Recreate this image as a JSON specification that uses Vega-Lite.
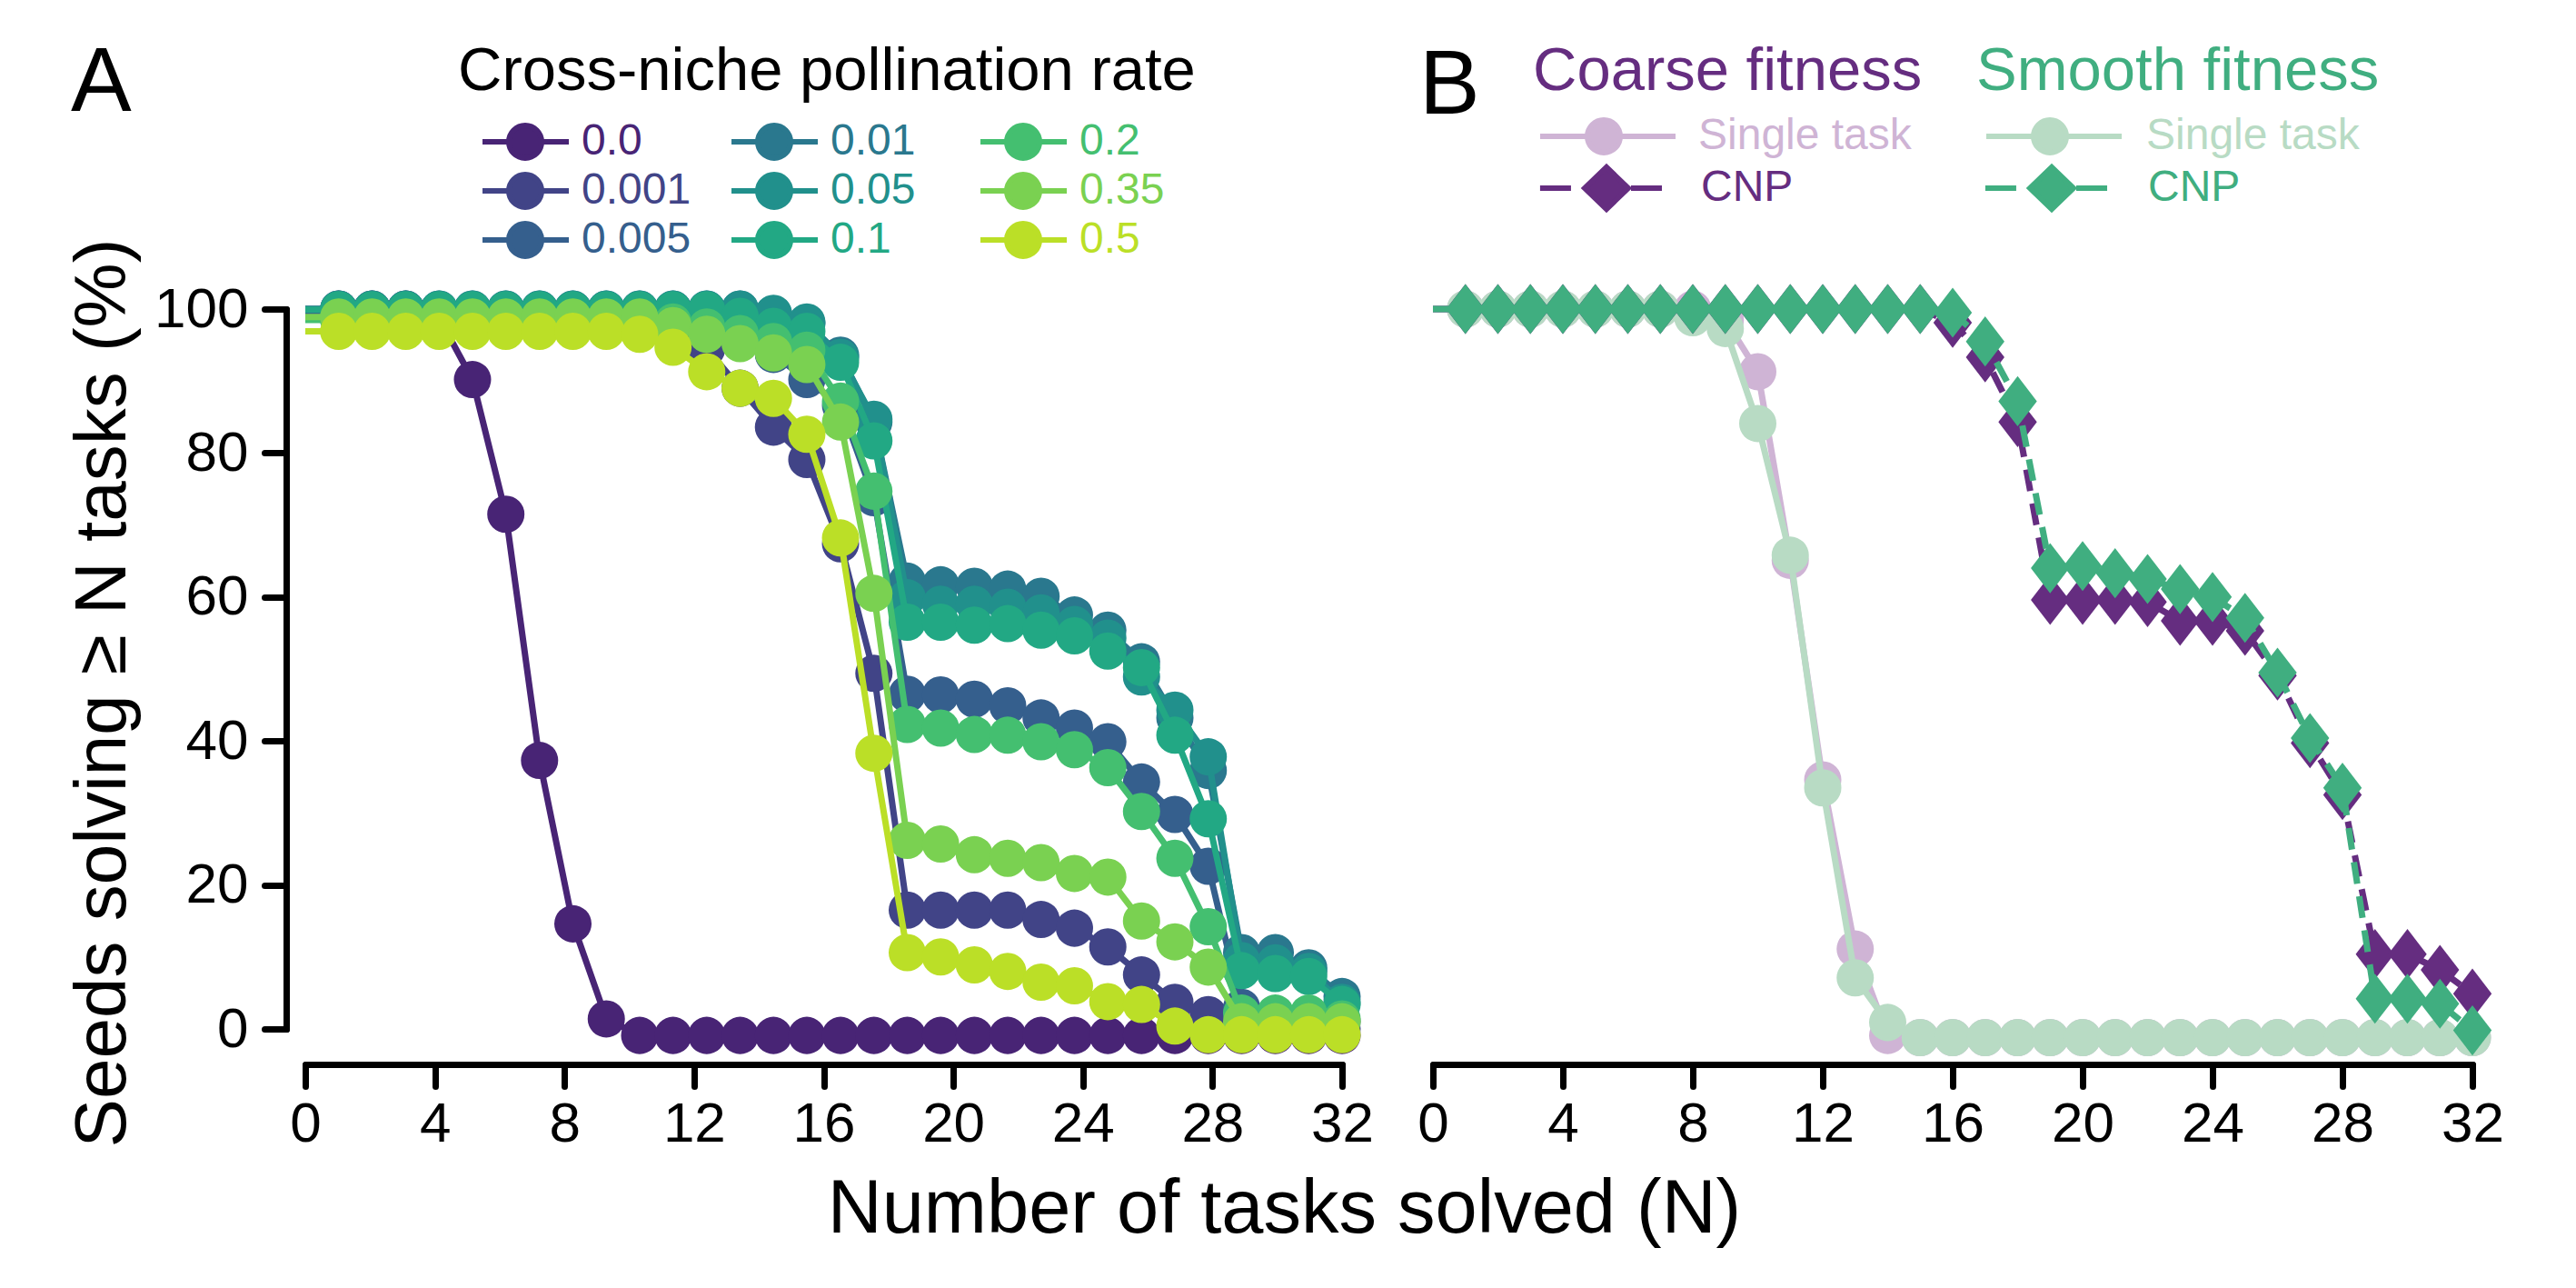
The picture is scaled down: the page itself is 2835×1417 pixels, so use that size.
{
  "$schema": "https://vega.github.io/schema/vega-lite/v6.json",
  "background": "white",
  "padding": {"left": 72, "top": 42, "right": 20, "bottom": 20},
  "bounds": "flush",
  "spacing": 100,
  "config": {
    "font": "Liberation Sans",
    "view": {"stroke": null},
    "axis": {
      "domainColor": "black", "domainWidth": 7, "domainCap": "round",
      "tickColor": "black", "tickWidth": 7, "tickSize": 24, "tickCap": "round",
      "labelFont": "Liberation Sans", "labelFontSize": 62, "labelColor": "black",
      "labelFlush": false, "labelOverlap": false, "grid": false,
      "titleFont": "Liberation Sans", "titleFontSize": 80, "titleFontWeight": "normal", "titleColor": "black"
    },
    "legend": {"labelFont": "Liberation Sans", "titleFont": "Liberation Sans"},
    "title": {"font": "Liberation Sans", "fontWeight": "normal", "color": "black"}
  },
  "datasets": {
    "A": [
      {"rate":"0.0","N":0,"pct":100},{"rate":"0.0","N":1.03,"pct":100},{"rate":"0.0","N":2.06,"pct":100},{"rate":"0.0","N":3.1,"pct":100},{"rate":"0.0","N":4.13,"pct":98.8},{"rate":"0.0","N":5.16,"pct":90.2},{"rate":"0.0","N":6.19,"pct":71.5},{"rate":"0.0","N":7.23,"pct":37.3},{"rate":"0.0","N":8.26,"pct":14.6},{"rate":"0.0","N":9.29,"pct":1.4},{"rate":"0.0","N":10.32,"pct":-0.9},{"rate":"0.0","N":11.35,"pct":-0.9},{"rate":"0.0","N":12.39,"pct":-0.9},{"rate":"0.0","N":13.42,"pct":-0.9},{"rate":"0.0","N":14.45,"pct":-0.9},{"rate":"0.0","N":15.48,"pct":-0.9},{"rate":"0.0","N":16.52,"pct":-0.9},{"rate":"0.0","N":17.55,"pct":-0.9},{"rate":"0.0","N":18.58,"pct":-0.9},{"rate":"0.0","N":19.61,"pct":-0.9},{"rate":"0.0","N":20.65,"pct":-0.9},{"rate":"0.0","N":21.68,"pct":-0.9},{"rate":"0.0","N":22.71,"pct":-0.9},{"rate":"0.0","N":23.74,"pct":-0.9},{"rate":"0.0","N":24.77,"pct":-0.9},{"rate":"0.0","N":25.81,"pct":-0.9},{"rate":"0.0","N":26.84,"pct":-0.9},{"rate":"0.0","N":27.87,"pct":-0.9},{"rate":"0.0","N":28.9,"pct":-0.9},{"rate":"0.0","N":29.94,"pct":-0.9},{"rate":"0.0","N":30.97,"pct":-0.9},{"rate":"0.0","N":32,"pct":-0.9},
      {"rate":"0.001","N":0,"pct":99.5},{"rate":"0.001","N":1.03,"pct":99.5},{"rate":"0.001","N":2.06,"pct":99.5},{"rate":"0.001","N":3.1,"pct":99.5},{"rate":"0.001","N":4.13,"pct":99.5},{"rate":"0.001","N":5.16,"pct":99.5},{"rate":"0.001","N":6.19,"pct":99.5},{"rate":"0.001","N":7.23,"pct":99.5},{"rate":"0.001","N":8.26,"pct":99.5},{"rate":"0.001","N":9.29,"pct":99.5},{"rate":"0.001","N":10.32,"pct":99.5},{"rate":"0.001","N":11.35,"pct":97.5},{"rate":"0.001","N":12.39,"pct":94.5},{"rate":"0.001","N":13.42,"pct":89},{"rate":"0.001","N":14.45,"pct":83.6},{"rate":"0.001","N":15.48,"pct":79.1},{"rate":"0.001","N":16.52,"pct":67.4},{"rate":"0.001","N":17.55,"pct":49.4},{"rate":"0.001","N":18.58,"pct":16.5},{"rate":"0.001","N":19.61,"pct":16.5},{"rate":"0.001","N":20.65,"pct":16.5},{"rate":"0.001","N":21.68,"pct":16.5},{"rate":"0.001","N":22.71,"pct":15.2},{"rate":"0.001","N":23.74,"pct":14},{"rate":"0.001","N":24.77,"pct":11.4},{"rate":"0.001","N":25.81,"pct":7.5},{"rate":"0.001","N":26.84,"pct":3.7},{"rate":"0.001","N":27.87,"pct":2},{"rate":"0.001","N":28.9,"pct":0},{"rate":"0.001","N":29.94,"pct":0},{"rate":"0.001","N":30.97,"pct":0},{"rate":"0.001","N":32,"pct":0},
      {"rate":"0.005","N":0,"pct":99.5},{"rate":"0.005","N":1.03,"pct":99.5},{"rate":"0.005","N":2.06,"pct":99.5},{"rate":"0.005","N":3.1,"pct":99.5},{"rate":"0.005","N":4.13,"pct":99.5},{"rate":"0.005","N":5.16,"pct":99.5},{"rate":"0.005","N":6.19,"pct":99.5},{"rate":"0.005","N":7.23,"pct":99.5},{"rate":"0.005","N":8.26,"pct":99.5},{"rate":"0.005","N":9.29,"pct":99.5},{"rate":"0.005","N":10.32,"pct":99.5},{"rate":"0.005","N":11.35,"pct":99.5},{"rate":"0.005","N":12.39,"pct":98.5},{"rate":"0.005","N":13.42,"pct":96.5},{"rate":"0.005","N":14.45,"pct":93.7},{"rate":"0.005","N":15.48,"pct":90.2},{"rate":"0.005","N":16.52,"pct":86.6},{"rate":"0.005","N":17.55,"pct":73.8},{"rate":"0.005","N":18.58,"pct":46.5},{"rate":"0.005","N":19.61,"pct":46.4},{"rate":"0.005","N":20.65,"pct":45.8},{"rate":"0.005","N":21.68,"pct":44.9},{"rate":"0.005","N":22.71,"pct":43.2},{"rate":"0.005","N":23.74,"pct":41.8},{"rate":"0.005","N":24.77,"pct":39.9},{"rate":"0.005","N":25.81,"pct":34.3},{"rate":"0.005","N":26.84,"pct":29.8},{"rate":"0.005","N":27.87,"pct":22.6},{"rate":"0.005","N":28.9,"pct":3},{"rate":"0.005","N":29.94,"pct":2},{"rate":"0.005","N":30.97,"pct":2},{"rate":"0.005","N":32,"pct":1},
      {"rate":"0.01","N":0,"pct":100},{"rate":"0.01","N":1.03,"pct":100},{"rate":"0.01","N":2.06,"pct":100},{"rate":"0.01","N":3.1,"pct":100},{"rate":"0.01","N":4.13,"pct":100},{"rate":"0.01","N":5.16,"pct":100},{"rate":"0.01","N":6.19,"pct":100},{"rate":"0.01","N":7.23,"pct":100},{"rate":"0.01","N":8.26,"pct":100},{"rate":"0.01","N":9.29,"pct":100},{"rate":"0.01","N":10.32,"pct":100},{"rate":"0.01","N":11.35,"pct":100},{"rate":"0.01","N":12.39,"pct":100},{"rate":"0.01","N":13.42,"pct":100},{"rate":"0.01","N":14.45,"pct":99.3},{"rate":"0.01","N":15.48,"pct":98},{"rate":"0.01","N":16.52,"pct":93.6},{"rate":"0.01","N":17.55,"pct":84.3},{"rate":"0.01","N":18.58,"pct":62.2},{"rate":"0.01","N":19.61,"pct":61.7},{"rate":"0.01","N":20.65,"pct":61.5},{"rate":"0.01","N":21.68,"pct":61.1},{"rate":"0.01","N":22.71,"pct":60.1},{"rate":"0.01","N":23.74,"pct":57.5},{"rate":"0.01","N":24.77,"pct":55.4},{"rate":"0.01","N":25.81,"pct":51},{"rate":"0.01","N":26.84,"pct":43.2},{"rate":"0.01","N":27.87,"pct":35.9},{"rate":"0.01","N":28.9,"pct":10.6},{"rate":"0.01","N":29.94,"pct":10.6},{"rate":"0.01","N":30.97,"pct":8.5},{"rate":"0.01","N":32,"pct":4.5},
      {"rate":"0.05","N":0,"pct":100},{"rate":"0.05","N":1.03,"pct":100},{"rate":"0.05","N":2.06,"pct":100},{"rate":"0.05","N":3.1,"pct":100},{"rate":"0.05","N":4.13,"pct":100},{"rate":"0.05","N":5.16,"pct":100},{"rate":"0.05","N":6.19,"pct":100},{"rate":"0.05","N":7.23,"pct":100},{"rate":"0.05","N":8.26,"pct":100},{"rate":"0.05","N":9.29,"pct":100},{"rate":"0.05","N":10.32,"pct":100},{"rate":"0.05","N":11.35,"pct":100},{"rate":"0.05","N":12.39,"pct":100},{"rate":"0.05","N":13.42,"pct":100},{"rate":"0.05","N":14.45,"pct":99.4},{"rate":"0.05","N":15.48,"pct":98.2},{"rate":"0.05","N":16.52,"pct":93.3},{"rate":"0.05","N":17.55,"pct":84.7},{"rate":"0.05","N":18.58,"pct":59.9},{"rate":"0.05","N":19.61,"pct":59},{"rate":"0.05","N":20.65,"pct":59},{"rate":"0.05","N":21.68,"pct":58.6},{"rate":"0.05","N":22.71,"pct":57.8},{"rate":"0.05","N":23.74,"pct":56.2},{"rate":"0.05","N":24.77,"pct":54.3},{"rate":"0.05","N":25.81,"pct":48.9},{"rate":"0.05","N":26.84,"pct":44.3},{"rate":"0.05","N":27.87,"pct":37.8},{"rate":"0.05","N":28.9,"pct":9.5},{"rate":"0.05","N":29.94,"pct":9.2},{"rate":"0.05","N":30.97,"pct":8},{"rate":"0.05","N":32,"pct":3.7},
      {"rate":"0.1","N":0,"pct":99.9},{"rate":"0.1","N":1.03,"pct":99.9},{"rate":"0.1","N":2.06,"pct":99.9},{"rate":"0.1","N":3.1,"pct":99.9},{"rate":"0.1","N":4.13,"pct":99.9},{"rate":"0.1","N":5.16,"pct":99.9},{"rate":"0.1","N":6.19,"pct":99.9},{"rate":"0.1","N":7.23,"pct":99.9},{"rate":"0.1","N":8.26,"pct":99.9},{"rate":"0.1","N":9.29,"pct":99.9},{"rate":"0.1","N":10.32,"pct":99.9},{"rate":"0.1","N":11.35,"pct":99.9},{"rate":"0.1","N":12.39,"pct":99.9},{"rate":"0.1","N":13.42,"pct":99},{"rate":"0.1","N":14.45,"pct":97.6},{"rate":"0.1","N":15.48,"pct":96.9},{"rate":"0.1","N":16.52,"pct":92.6},{"rate":"0.1","N":17.55,"pct":81.7},{"rate":"0.1","N":18.58,"pct":56.5},{"rate":"0.1","N":19.61,"pct":56.5},{"rate":"0.1","N":20.65,"pct":56.1},{"rate":"0.1","N":21.68,"pct":56.3},{"rate":"0.1","N":22.71,"pct":55.4},{"rate":"0.1","N":23.74,"pct":54.6},{"rate":"0.1","N":24.77,"pct":52.5},{"rate":"0.1","N":25.81,"pct":50.2},{"rate":"0.1","N":26.84,"pct":40.8},{"rate":"0.1","N":27.87,"pct":29.2},{"rate":"0.1","N":28.9,"pct":8.1},{"rate":"0.1","N":29.94,"pct":7.7},{"rate":"0.1","N":30.97,"pct":7.3},{"rate":"0.1","N":32,"pct":3.4},
      {"rate":"0.2","N":0,"pct":98.5},{"rate":"0.2","N":1.03,"pct":98.5},{"rate":"0.2","N":2.06,"pct":98.5},{"rate":"0.2","N":3.1,"pct":98.5},{"rate":"0.2","N":4.13,"pct":98.5},{"rate":"0.2","N":5.16,"pct":98.5},{"rate":"0.2","N":6.19,"pct":98.5},{"rate":"0.2","N":7.23,"pct":98.5},{"rate":"0.2","N":8.26,"pct":98.5},{"rate":"0.2","N":9.29,"pct":98.5},{"rate":"0.2","N":10.32,"pct":98.5},{"rate":"0.2","N":11.35,"pct":98.2},{"rate":"0.2","N":12.39,"pct":97.5},{"rate":"0.2","N":13.42,"pct":96.6},{"rate":"0.2","N":14.45,"pct":95.5},{"rate":"0.2","N":15.48,"pct":94.3},{"rate":"0.2","N":16.52,"pct":87.2},{"rate":"0.2","N":17.55,"pct":74.7},{"rate":"0.2","N":18.58,"pct":42.3},{"rate":"0.2","N":19.61,"pct":41.8},{"rate":"0.2","N":20.65,"pct":40.9},{"rate":"0.2","N":21.68,"pct":40.8},{"rate":"0.2","N":22.71,"pct":39.9},{"rate":"0.2","N":23.74,"pct":38.8},{"rate":"0.2","N":24.77,"pct":36.3},{"rate":"0.2","N":25.81,"pct":30.2},{"rate":"0.2","N":26.84,"pct":23.7},{"rate":"0.2","N":27.87,"pct":14.2},{"rate":"0.2","N":28.9,"pct":2.2},{"rate":"0.2","N":29.94,"pct":2.2},{"rate":"0.2","N":30.97,"pct":2.2},{"rate":"0.2","N":32,"pct":1.4},
      {"rate":"0.35","N":0,"pct":98.9},{"rate":"0.35","N":1.03,"pct":98.9},{"rate":"0.35","N":2.06,"pct":98.9},{"rate":"0.35","N":3.1,"pct":98.9},{"rate":"0.35","N":4.13,"pct":98.9},{"rate":"0.35","N":5.16,"pct":98.9},{"rate":"0.35","N":6.19,"pct":98.9},{"rate":"0.35","N":7.23,"pct":98.9},{"rate":"0.35","N":8.26,"pct":98.9},{"rate":"0.35","N":9.29,"pct":98.9},{"rate":"0.35","N":10.32,"pct":98.9},{"rate":"0.35","N":11.35,"pct":97.7},{"rate":"0.35","N":12.39,"pct":96.5},{"rate":"0.35","N":13.42,"pct":95.2},{"rate":"0.35","N":14.45,"pct":93.9},{"rate":"0.35","N":15.48,"pct":92.3},{"rate":"0.35","N":16.52,"pct":84.3},{"rate":"0.35","N":17.55,"pct":60.5},{"rate":"0.35","N":18.58,"pct":26.2},{"rate":"0.35","N":19.61,"pct":25.7},{"rate":"0.35","N":20.65,"pct":24.2},{"rate":"0.35","N":21.68,"pct":23.7},{"rate":"0.35","N":22.71,"pct":23.1},{"rate":"0.35","N":23.74,"pct":21.6},{"rate":"0.35","N":24.77,"pct":21.1},{"rate":"0.35","N":25.81,"pct":15},{"rate":"0.35","N":26.84,"pct":12.1},{"rate":"0.35","N":27.87,"pct":8.6},{"rate":"0.35","N":28.9,"pct":1},{"rate":"0.35","N":29.94,"pct":1},{"rate":"0.35","N":30.97,"pct":1},{"rate":"0.35","N":32,"pct":1},
      {"rate":"0.5","N":0,"pct":96.9},{"rate":"0.5","N":1.03,"pct":96.9},{"rate":"0.5","N":2.06,"pct":96.9},{"rate":"0.5","N":3.1,"pct":96.9},{"rate":"0.5","N":4.13,"pct":96.9},{"rate":"0.5","N":5.16,"pct":96.9},{"rate":"0.5","N":6.19,"pct":96.9},{"rate":"0.5","N":7.23,"pct":96.9},{"rate":"0.5","N":8.26,"pct":96.9},{"rate":"0.5","N":9.29,"pct":96.9},{"rate":"0.5","N":10.32,"pct":96.5},{"rate":"0.5","N":11.35,"pct":94.7},{"rate":"0.5","N":12.39,"pct":91.3},{"rate":"0.5","N":13.42,"pct":89},{"rate":"0.5","N":14.45,"pct":87.6},{"rate":"0.5","N":15.48,"pct":82.6},{"rate":"0.5","N":16.52,"pct":68.2},{"rate":"0.5","N":17.55,"pct":38.3},{"rate":"0.5","N":18.58,"pct":10.6},{"rate":"0.5","N":19.61,"pct":10},{"rate":"0.5","N":20.65,"pct":8.9},{"rate":"0.5","N":21.68,"pct":8},{"rate":"0.5","N":22.71,"pct":6.5},{"rate":"0.5","N":23.74,"pct":6},{"rate":"0.5","N":24.77,"pct":3.8},{"rate":"0.5","N":25.81,"pct":3.4},{"rate":"0.5","N":26.84,"pct":0.4},{"rate":"0.5","N":27.87,"pct":-0.8},{"rate":"0.5","N":28.9,"pct":-0.8},{"rate":"0.5","N":29.94,"pct":-0.8},{"rate":"0.5","N":30.97,"pct":-0.8},{"rate":"0.5","N":32,"pct":-0.8}
    ],
    "B": [
      {"series":"Coarse single","type":"Single task","N":0,"pct":100},{"series":"Coarse single","type":"Single task","N":1,"pct":100},{"series":"Coarse single","type":"Single task","N":2,"pct":100},{"series":"Coarse single","type":"Single task","N":3,"pct":100},{"series":"Coarse single","type":"Single task","N":4,"pct":100},{"series":"Coarse single","type":"Single task","N":5,"pct":100},{"series":"Coarse single","type":"Single task","N":6,"pct":100},{"series":"Coarse single","type":"Single task","N":7,"pct":100},{"series":"Coarse single","type":"Single task","N":8,"pct":100},{"series":"Coarse single","type":"Single task","N":9,"pct":98.5},{"series":"Coarse single","type":"Single task","N":10,"pct":91.3},{"series":"Coarse single","type":"Single task","N":11,"pct":65.1},{"series":"Coarse single","type":"Single task","N":12,"pct":34.6},{"series":"Coarse single","type":"Single task","N":13,"pct":11.1},{"series":"Coarse single","type":"Single task","N":14,"pct":-0.9},{"series":"Coarse single","type":"Single task","N":15,"pct":-1.2},{"series":"Coarse single","type":"Single task","N":16,"pct":-1.2},{"series":"Coarse single","type":"Single task","N":17,"pct":-1.2},{"series":"Coarse single","type":"Single task","N":18,"pct":-1.2},{"series":"Coarse single","type":"Single task","N":19,"pct":-1.2},{"series":"Coarse single","type":"Single task","N":20,"pct":-1.2},{"series":"Coarse single","type":"Single task","N":21,"pct":-1.2},{"series":"Coarse single","type":"Single task","N":22,"pct":-1.2},{"series":"Coarse single","type":"Single task","N":23,"pct":-1.2},{"series":"Coarse single","type":"Single task","N":24,"pct":-1.2},{"series":"Coarse single","type":"Single task","N":25,"pct":-1.2},{"series":"Coarse single","type":"Single task","N":26,"pct":-1.2},{"series":"Coarse single","type":"Single task","N":27,"pct":-1.2},{"series":"Coarse single","type":"Single task","N":28,"pct":-1.2},{"series":"Coarse single","type":"Single task","N":29,"pct":-1.2},{"series":"Coarse single","type":"Single task","N":30,"pct":-1.2},{"series":"Coarse single","type":"Single task","N":31,"pct":-1.2},{"series":"Coarse single","type":"Single task","N":32,"pct":-1.2},
      {"series":"Smooth single","type":"Single task","N":0,"pct":100},{"series":"Smooth single","type":"Single task","N":1,"pct":100},{"series":"Smooth single","type":"Single task","N":2,"pct":100},{"series":"Smooth single","type":"Single task","N":3,"pct":100},{"series":"Smooth single","type":"Single task","N":4,"pct":100},{"series":"Smooth single","type":"Single task","N":5,"pct":100},{"series":"Smooth single","type":"Single task","N":6,"pct":100},{"series":"Smooth single","type":"Single task","N":7,"pct":100},{"series":"Smooth single","type":"Single task","N":8,"pct":98.8},{"series":"Smooth single","type":"Single task","N":9,"pct":97.3},{"series":"Smooth single","type":"Single task","N":10,"pct":84.1},{"series":"Smooth single","type":"Single task","N":11,"pct":65.8},{"series":"Smooth single","type":"Single task","N":12,"pct":33.5},{"series":"Smooth single","type":"Single task","N":13,"pct":7.1},{"series":"Smooth single","type":"Single task","N":14,"pct":0.9},{"series":"Smooth single","type":"Single task","N":15,"pct":-1.2},{"series":"Smooth single","type":"Single task","N":16,"pct":-1.2},{"series":"Smooth single","type":"Single task","N":17,"pct":-1.2},{"series":"Smooth single","type":"Single task","N":18,"pct":-1.2},{"series":"Smooth single","type":"Single task","N":19,"pct":-1.2},{"series":"Smooth single","type":"Single task","N":20,"pct":-1.2},{"series":"Smooth single","type":"Single task","N":21,"pct":-1.2},{"series":"Smooth single","type":"Single task","N":22,"pct":-1.2},{"series":"Smooth single","type":"Single task","N":23,"pct":-1.2},{"series":"Smooth single","type":"Single task","N":24,"pct":-1.2},{"series":"Smooth single","type":"Single task","N":25,"pct":-1.2},{"series":"Smooth single","type":"Single task","N":26,"pct":-1.2},{"series":"Smooth single","type":"Single task","N":27,"pct":-1.2},{"series":"Smooth single","type":"Single task","N":28,"pct":-1.2},{"series":"Smooth single","type":"Single task","N":29,"pct":-1.2},{"series":"Smooth single","type":"Single task","N":30,"pct":-1.2},{"series":"Smooth single","type":"Single task","N":31,"pct":-1.2},{"series":"Smooth single","type":"Single task","N":32,"pct":-1.2},
      {"series":"Coarse CNP","type":"CNP","N":0,"pct":100},{"series":"Coarse CNP","type":"CNP","N":1,"pct":100},{"series":"Coarse CNP","type":"CNP","N":2,"pct":100},{"series":"Coarse CNP","type":"CNP","N":3,"pct":100},{"series":"Coarse CNP","type":"CNP","N":4,"pct":100},{"series":"Coarse CNP","type":"CNP","N":5,"pct":100},{"series":"Coarse CNP","type":"CNP","N":6,"pct":100},{"series":"Coarse CNP","type":"CNP","N":7,"pct":100},{"series":"Coarse CNP","type":"CNP","N":8,"pct":100},{"series":"Coarse CNP","type":"CNP","N":9,"pct":100},{"series":"Coarse CNP","type":"CNP","N":10,"pct":100},{"series":"Coarse CNP","type":"CNP","N":11,"pct":100},{"series":"Coarse CNP","type":"CNP","N":12,"pct":100},{"series":"Coarse CNP","type":"CNP","N":13,"pct":100},{"series":"Coarse CNP","type":"CNP","N":14,"pct":100},{"series":"Coarse CNP","type":"CNP","N":15,"pct":100},{"series":"Coarse CNP","type":"CNP","N":16,"pct":98.1},{"series":"Coarse CNP","type":"CNP","N":17,"pct":93.3},{"series":"Coarse CNP","type":"CNP","N":18,"pct":84.3},{"series":"Coarse CNP","type":"CNP","N":19,"pct":59.6},{"series":"Coarse CNP","type":"CNP","N":20,"pct":59.6},{"series":"Coarse CNP","type":"CNP","N":21,"pct":59.6},{"series":"Coarse CNP","type":"CNP","N":22,"pct":59.3},{"series":"Coarse CNP","type":"CNP","N":23,"pct":56.7},{"series":"Coarse CNP","type":"CNP","N":24,"pct":56.7},{"series":"Coarse CNP","type":"CNP","N":25,"pct":55.3},{"series":"Coarse CNP","type":"CNP","N":26,"pct":49.1},{"series":"Coarse CNP","type":"CNP","N":27,"pct":39.7},{"series":"Coarse CNP","type":"CNP","N":28,"pct":32.5},{"series":"Coarse CNP","type":"CNP","N":29,"pct":10.4},{"series":"Coarse CNP","type":"CNP","N":30,"pct":10.4},{"series":"Coarse CNP","type":"CNP","N":31,"pct":8.2},{"series":"Coarse CNP","type":"CNP","N":32,"pct":4.9},
      {"series":"Smooth CNP","type":"CNP","N":0,"pct":100},{"series":"Smooth CNP","type":"CNP","N":1,"pct":100},{"series":"Smooth CNP","type":"CNP","N":2,"pct":100},{"series":"Smooth CNP","type":"CNP","N":3,"pct":100},{"series":"Smooth CNP","type":"CNP","N":4,"pct":100},{"series":"Smooth CNP","type":"CNP","N":5,"pct":100},{"series":"Smooth CNP","type":"CNP","N":6,"pct":100},{"series":"Smooth CNP","type":"CNP","N":7,"pct":100},{"series":"Smooth CNP","type":"CNP","N":8,"pct":100},{"series":"Smooth CNP","type":"CNP","N":9,"pct":100},{"series":"Smooth CNP","type":"CNP","N":10,"pct":100},{"series":"Smooth CNP","type":"CNP","N":11,"pct":100},{"series":"Smooth CNP","type":"CNP","N":12,"pct":100},{"series":"Smooth CNP","type":"CNP","N":13,"pct":100},{"series":"Smooth CNP","type":"CNP","N":14,"pct":100},{"series":"Smooth CNP","type":"CNP","N":15,"pct":100},{"series":"Smooth CNP","type":"CNP","N":16,"pct":99.5},{"series":"Smooth CNP","type":"CNP","N":17,"pct":95.5},{"series":"Smooth CNP","type":"CNP","N":18,"pct":87.2},{"series":"Smooth CNP","type":"CNP","N":19,"pct":64},{"series":"Smooth CNP","type":"CNP","N":20,"pct":64.3},{"series":"Smooth CNP","type":"CNP","N":21,"pct":63.3},{"series":"Smooth CNP","type":"CNP","N":22,"pct":62.5},{"series":"Smooth CNP","type":"CNP","N":23,"pct":61.1},{"series":"Smooth CNP","type":"CNP","N":24,"pct":60},{"series":"Smooth CNP","type":"CNP","N":25,"pct":57.1},{"series":"Smooth CNP","type":"CNP","N":26,"pct":49.5},{"series":"Smooth CNP","type":"CNP","N":27,"pct":40.4},{"series":"Smooth CNP","type":"CNP","N":28,"pct":33.5},{"series":"Smooth CNP","type":"CNP","N":29,"pct":4.2},{"series":"Smooth CNP","type":"CNP","N":30,"pct":4.2},{"series":"Smooth CNP","type":"CNP","N":31,"pct":3.5},{"series":"Smooth CNP","type":"CNP","N":32,"pct":-0.2}
    ]
  },
  "hconcat": [
    {
      "width": 1141,
      "height": 792,
      "data": {"name": "A"},
      "title": {"text": "A", "anchor": "start", "frame": "group", "fontSize": 100, "dx": -258, "dy": -119, "offset": 0},
      "encoding": {
        "x": {"field": "N", "type": "quantitative",
          "scale": {"domain": [0, 32], "nice": false, "zero": false},
          "axis": {"values": [0,4,8,12,16,20,24,28,32], "offset": 39, "labelPadding": 11,
            "title": "Number of tasks solved (N)", "titleFontSize": 83, "titleX": 1077, "titleY": 184, "titleBaseline": "alphabetic", "titleAlign": "center"}},
        "y": {"field": "pct", "type": "quantitative",
          "scale": {"domain": [0, 100], "nice": false, "zero": false},
          "axis": {"values": [0,20,40,60,80,100], "offset": 21, "labelPadding": 18,
            "title": "Seeds solving ≥ N tasks (%)", "titleX": -178, "titleY": 422, "titleBaseline": "alphabetic", "titleAngle": -90, "titleAlign": "center"}},
        "color": {"field": "rate", "type": "nominal",
          "scale": {"domain": ["0.0","0.001","0.005","0.01","0.05","0.1","0.2","0.35","0.5"],
                    "range": ["#482475","#414487","#355F8D","#2A788E","#21908C","#22A884","#44BF70","#7AD151","#BBDF27"]},
          "legend": {
            "title": "Cross-niche pollination rate", "orient": "none", "legendX": 168, "legendY": -294,
            "columns": 3, "gridAlign": "all", "columnPadding": 17, "rowPadding": -10.5, "padding": 0,
            "symbolType": "M-2.61,0H2.67M-1,0A1,1 0 1,1 1,0A1,1 0 1,1 -1,0Z",
            "symbolSize": 1296, "symbolStrokeWidth": 6, "symbolOffset": 50, "symbolOpacity": 1,
            "labelFontSize": 48, "labelOffset": 38, "labelLimit": 1000,
            "titleFontSize": 67, "titleFontWeight": "normal", "titleColor": "black", "titlePadding": 19, "titleLimit": 3000,
            "encoding": {
              "symbols": {
                "fill": {"condition": [{"test": "datum.value === '0.0'", "value": "#482475"},{"test": "datum.value === '0.001'", "value": "#414487"},{"test": "datum.value === '0.005'", "value": "#355F8D"},{"test": "datum.value === '0.01'", "value": "#2A788E"},{"test": "datum.value === '0.05'", "value": "#21908C"},{"test": "datum.value === '0.1'", "value": "#22A884"},{"test": "datum.value === '0.2'", "value": "#44BF70"},{"test": "datum.value === '0.35'", "value": "#7AD151"}], "value": "#BBDF27"},
                "stroke": {"condition": [{"test": "datum.value === '0.0'", "value": "#482475"},{"test": "datum.value === '0.001'", "value": "#414487"},{"test": "datum.value === '0.005'", "value": "#355F8D"},{"test": "datum.value === '0.01'", "value": "#2A788E"},{"test": "datum.value === '0.05'", "value": "#21908C"},{"test": "datum.value === '0.1'", "value": "#22A884"},{"test": "datum.value === '0.2'", "value": "#44BF70"},{"test": "datum.value === '0.35'", "value": "#7AD151"}], "value": "#BBDF27"},
                "opacity": {"value": 1}
              },
              "labels": {
                "fill": {"condition": [{"test": "datum.value === '0.0'", "value": "#482475"},{"test": "datum.value === '0.001'", "value": "#414487"},{"test": "datum.value === '0.005'", "value": "#355F8D"},{"test": "datum.value === '0.01'", "value": "#2A788E"},{"test": "datum.value === '0.05'", "value": "#21908C"},{"test": "datum.value === '0.1'", "value": "#22A884"},{"test": "datum.value === '0.2'", "value": "#44BF70"},{"test": "datum.value === '0.35'", "value": "#7AD151"}], "value": "#BBDF27"}
              }
            }
          }
        }
      },
      "layer": [
        {"transform": [{"filter": "datum.rate === '0.0'"}], "layer": [
          {"mark": {"type": "line", "strokeWidth": 7, "strokeJoin": "round"}},
          {"transform": [{"filter": "datum.N > 0"}], "mark": {"type": "point", "shape": "circle", "filled": true, "size": 1681, "opacity": 1}}]},
        {"transform": [{"filter": "datum.rate === '0.001'"}], "layer": [
          {"mark": {"type": "line", "strokeWidth": 7, "strokeJoin": "round"}},
          {"transform": [{"filter": "datum.N > 0"}], "mark": {"type": "point", "shape": "circle", "filled": true, "size": 1681, "opacity": 1}}]},
        {"transform": [{"filter": "datum.rate === '0.005'"}], "layer": [
          {"mark": {"type": "line", "strokeWidth": 7, "strokeJoin": "round"}},
          {"transform": [{"filter": "datum.N > 0"}], "mark": {"type": "point", "shape": "circle", "filled": true, "size": 1681, "opacity": 1}}]},
        {"transform": [{"filter": "datum.rate === '0.01'"}], "layer": [
          {"mark": {"type": "line", "strokeWidth": 7, "strokeJoin": "round"}},
          {"transform": [{"filter": "datum.N > 0"}], "mark": {"type": "point", "shape": "circle", "filled": true, "size": 1681, "opacity": 1}}]},
        {"transform": [{"filter": "datum.rate === '0.05'"}], "layer": [
          {"mark": {"type": "line", "strokeWidth": 7, "strokeJoin": "round"}},
          {"transform": [{"filter": "datum.N > 0"}], "mark": {"type": "point", "shape": "circle", "filled": true, "size": 1681, "opacity": 1}}]},
        {"transform": [{"filter": "datum.rate === '0.1'"}], "layer": [
          {"mark": {"type": "line", "strokeWidth": 7, "strokeJoin": "round"}},
          {"transform": [{"filter": "datum.N > 0"}], "mark": {"type": "point", "shape": "circle", "filled": true, "size": 1681, "opacity": 1}}]},
        {"transform": [{"filter": "datum.rate === '0.2'"}], "layer": [
          {"mark": {"type": "line", "strokeWidth": 7, "strokeJoin": "round"}},
          {"transform": [{"filter": "datum.N > 0"}], "mark": {"type": "point", "shape": "circle", "filled": true, "size": 1681, "opacity": 1}}]},
        {"transform": [{"filter": "datum.rate === '0.35'"}], "layer": [
          {"mark": {"type": "line", "strokeWidth": 7, "strokeJoin": "round"}},
          {"transform": [{"filter": "datum.N > 0"}], "mark": {"type": "point", "shape": "circle", "filled": true, "size": 1681, "opacity": 1}}]},
        {"transform": [{"filter": "datum.rate === '0.5'"}], "layer": [
          {"mark": {"type": "line", "strokeWidth": 7, "strokeJoin": "round"}},
          {"transform": [{"filter": "datum.N > 0"}], "mark": {"type": "point", "shape": "circle", "filled": true, "size": 1681, "opacity": 1}}]}
      ]
    },
    {
      "width": 1144,
      "height": 792,
      "data": {"name": "B"},
      "title": {"text": "B", "anchor": "start", "frame": "group", "fontSize": 100, "dx": -15, "dy": 100, "offset": 0},
      "encoding": {
        "x": {"field": "N", "type": "quantitative",
          "scale": {"domain": [0, 32], "nice": false, "zero": false},
          "axis": {"values": [0,4,8,12,16,20,24,28,32], "offset": 39, "labelPadding": 11, "title": null}},
        "y": {"field": "pct", "type": "quantitative",
          "scale": {"domain": [0, 100], "nice": false, "zero": false}, "axis": null}
      },
      "layer": [
        {"transform": [{"filter": "datum.series === 'Coarse single'"}],
         "encoding": {"color": {"field": "type", "type": "nominal", "scale": {"domain": ["Single task"], "range": ["#CFB4D5"]},
           "legend": {"title": "Coarse fitness", "titleColor": "#652D80", "titleFontSize": 67, "titleFontWeight": "normal", "titlePadding": 13, "titleLimit": 3000,
             "orient": "none", "legendX": 110, "legendY": -294, "padding": 0,
             "symbolType": "M-3.89,0H4.39M-1,0A1,1 0 1,1 1,0A1,1 0 1,1 -1,0Z", "symbolSize": 1296, "symbolStrokeWidth": 6, "symbolOffset": 54, "symbolOpacity": 1,
             "labelFontSize": 48, "labelOffset": 80, "labelLimit": 1000, "labelColor": "#CFB4D5",
             "encoding": {"symbols": {"fill": {"value": "#CFB4D5"}, "stroke": {"value": "#CFB4D5"}, "opacity": {"value": 1}}, "labels": {"fill": {"value": "#CFB4D5"}}}}}},
         "layer": [
           {"mark": {"type": "line", "strokeWidth": 7, "strokeJoin": "round"}},
           {"transform": [{"filter": "datum.N > 0"}], "mark": {"type": "point", "shape": "circle", "filled": true, "size": 1681, "opacity": 1}}]},
        {"transform": [{"filter": "datum.series === 'Smooth single'"}],
         "encoding": {"color": {"field": "type", "type": "nominal", "scale": {"domain": ["Single task"], "range": ["#B8DBC4"]},
           "legend": {"title": "Smooth fitness", "titleColor": "#40AE80", "titleFontSize": 67, "titleFontWeight": "normal", "titlePadding": 13, "titleLimit": 3000,
             "orient": "none", "legendX": 598, "legendY": -294, "padding": 0,
             "symbolType": "M-3.89,0H4.39M-1,0A1,1 0 1,1 1,0A1,1 0 1,1 -1,0Z", "symbolSize": 1296, "symbolStrokeWidth": 6, "symbolOffset": 57, "symbolOpacity": 1,
             "labelFontSize": 48, "labelOffset": 82, "labelLimit": 1000, "labelColor": "#B8DBC4",
             "encoding": {"symbols": {"fill": {"value": "#B8DBC4"}, "stroke": {"value": "#B8DBC4"}, "opacity": {"value": 1}}, "labels": {"fill": {"value": "#B8DBC4"}}}}}},
         "layer": [
           {"mark": {"type": "line", "strokeWidth": 7, "strokeJoin": "round"}},
           {"transform": [{"filter": "datum.N > 0"}], "mark": {"type": "point", "shape": "circle", "filled": true, "size": 1681, "opacity": 1}}]},
        {"transform": [{"filter": "datum.series === 'Coarse CNP'"}],
         "encoding": {"color": {"field": "type", "type": "nominal", "scale": {"domain": ["CNP"], "range": ["#652D80"]},
           "legend": {"title": null,
             "orient": "none", "legendX": 110, "legendY": -157, "padding": 0,
             "symbolType": "M-4.06,0H-2.17M1.5,0H3.39M0,-1.28L1.33,0L0,1.28L-1.33,0Z", "symbolSize": 1296, "symbolStrokeWidth": 6, "symbolOffset": 57, "symbolOpacity": 1,
             "labelFontSize": 48, "labelOffset": 80, "labelLimit": 1000, "labelColor": "#652D80",
             "encoding": {"symbols": {"fill": {"value": "#652D80"}, "stroke": {"value": "#652D80"}, "opacity": {"value": 1}}, "labels": {"fill": {"value": "#652D80"}}}}}},
         "layer": [
           {"mark": {"type": "line", "strokeWidth": 7, "strokeDash": [24, 14]}},
           {"transform": [{"filter": "datum.N > 0"}], "mark": {"type": "point", "shape": "M0,-1.3L1,0L0,1.3L-1,0Z", "filled": true, "size": 1800, "opacity": 1}}]},
        {"transform": [{"filter": "datum.series === 'Smooth CNP'"}],
         "encoding": {"color": {"field": "type", "type": "nominal", "scale": {"domain": ["CNP"], "range": ["#40AE80"]},
           "legend": {"title": null,
             "orient": "none", "legendX": 598, "legendY": -157, "padding": 0,
             "symbolType": "M-4.06,0H-2.17M1.5,0H3.39M0,-1.28L1.33,0L0,1.28L-1.33,0Z", "symbolSize": 1296, "symbolStrokeWidth": 6, "symbolOffset": 59, "symbolOpacity": 1,
             "labelFontSize": 48, "labelOffset": 82, "labelLimit": 1000, "labelColor": "#40AE80",
             "encoding": {"symbols": {"fill": {"value": "#40AE80"}, "stroke": {"value": "#40AE80"}, "opacity": {"value": 1}}, "labels": {"fill": {"value": "#40AE80"}}}}}},
         "layer": [
           {"mark": {"type": "line", "strokeWidth": 7, "strokeDash": [24, 14]}},
           {"transform": [{"filter": "datum.N > 0"}], "mark": {"type": "point", "shape": "M0,-1.3L1,0L0,1.3L-1,0Z", "filled": true, "size": 1800, "opacity": 1}}]}
      ],
      "resolve": {"scale": {"color": "independent"}, "legend": {"color": "independent"}}
    }
  ]
}
